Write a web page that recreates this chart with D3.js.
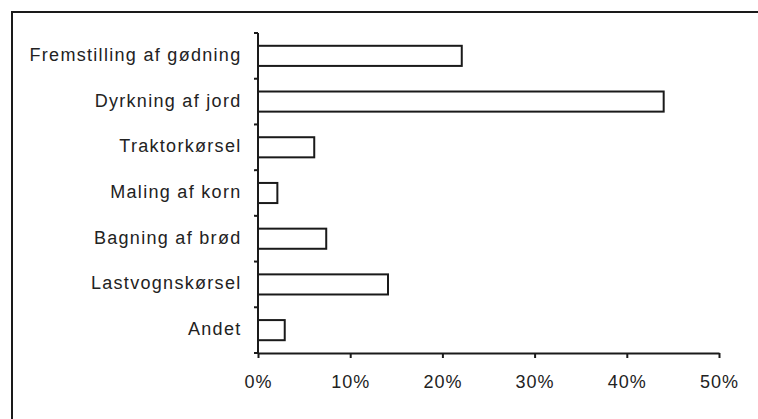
<!DOCTYPE html>
<html><head><meta charset="utf-8">
<script src="https://cdn.jsdelivr.net/npm/d3@7"></script>
<style>body{margin:0;background:#fff}svg{display:block}</style>
</head><body>
<script>
const categories = ["Fremstilling af gødning","Dyrkning af jord","Traktorkørsel","Maling af korn","Bagning af brød","Lastvognskørsel","Andet"];
const values = [0.221, 0.440, 0.061, 0.021, 0.074, 0.141, 0.029];
const xTicks = [0, 0.1, 0.2, 0.3, 0.4, 0.5];

const W = 758, H = 419;
const svg = d3.select("body").append("svg").attr("width", W).attr("height", H);

// outer frame
svg.append("rect").attr("x", 12).attr("y", 12).attr("width", 800).attr("height", 500)
  .attr("fill", "none").attr("stroke", "#1a1a1a").attr("stroke-width", 2);

const x = d3.scaleLinear().domain([0, 0.5]).range([258, 719]);
const y = d3.scaleBand().domain(categories).range([33, 353]).paddingInner(0.56).paddingOuter(0.28);

const font = "'Liberation Sans', Arial, sans-serif";

// bars
svg.append("g").selectAll("rect").data(categories).join("rect")
  .attr("x", x(0)).attr("y", d => y(d))
  .attr("width", (d,i) => x(values[i]) - x(0)).attr("height", y.bandwidth())
  .attr("fill", "#fff").attr("stroke", "#1a1a1a").attr("stroke-width", 2);

// y axis line + boundary ticks
const step = y.step();
const yg = svg.append("g");
yg.append("line").attr("x1", x(0)).attr("x2", x(0)).attr("y1", 33).attr("y2", 353)
  .attr("stroke", "#1a1a1a").attr("stroke-width", 2);
yg.selectAll("line.t").data(d3.range(categories.length + 1)).join("line").attr("class","t")
  .attr("x1", x(0) - 4).attr("x2", x(0))
  .attr("y1", i => 33 + i * step).attr("y2", i => 33 + i * step)
  .attr("stroke", "#1a1a1a").attr("stroke-width", 2);
yg.selectAll("text").data(categories).join("text")
  .attr("x", 241.5).attr("y", d => y(d) + y.bandwidth() / 2)
  .attr("dy", "0.28em").attr("text-anchor", "end")
  .attr("font-family", font).attr("font-size", 18).attr("letter-spacing", "1.3px")
  .attr("fill", "#222").text(d => d);

// x axis
const xg = svg.append("g").attr("transform", "translate(0,353)");
xg.call(d3.axisBottom(x).tickValues(xTicks).tickFormat(d3.format(".0%")).tickSize(5).tickSizeOuter(0).tickPadding(17));
xg.select(".domain").attr("stroke", "#1a1a1a").attr("stroke-width", 2);
xg.selectAll(".tick line").attr("stroke", "#1a1a1a").attr("stroke-width", 2);
xg.selectAll(".tick text").attr("font-family", font).attr("font-size", 18).attr("letter-spacing", "1px").attr("fill", "#222");
</script>
</body></html>
